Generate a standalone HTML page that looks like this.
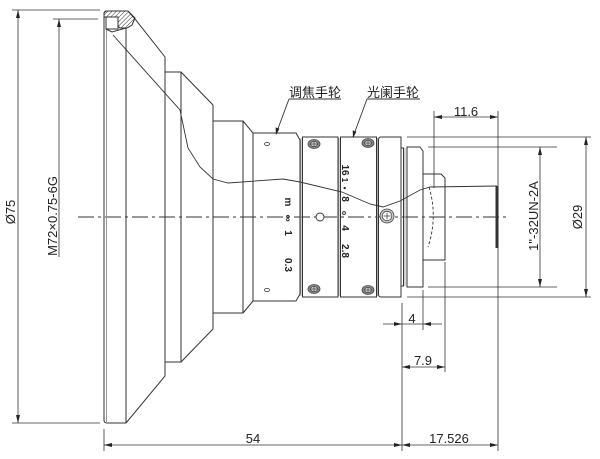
<!DOCTYPE html>
<html><head><meta charset="utf-8"><style>
html,body{margin:0;padding:0;background:#fff;}
svg{display:block;}
text{font-family:"Liberation Sans",Arial,sans-serif;fill:#222;}
.cn{font-family:"Liberation Sans","Noto Sans CJK SC","WenQuanYi Zen Hei",sans-serif;}
</style></head><body>
<svg width="600" height="459" viewBox="0 0 600 459" xmlns="http://www.w3.org/2000/svg">
<defs>
<pattern id="h" width="3" height="3" patternUnits="userSpaceOnUse" patternTransform="rotate(45)">
<line x1="0" y1="0" x2="0" y2="3" stroke="#333" stroke-width="1"/>
</pattern>
</defs>
<rect width="600" height="459" fill="#fff"/>

<!-- centerline -->
<line x1="78" y1="217" x2="510" y2="217" stroke="#333" stroke-width="0.9" stroke-dasharray="16 4 3 4"/>

<g fill="none" stroke="#333" stroke-width="1">
<!-- front body -->
<path d="M104,420 L104,14 Q104,11 107,11 L128,11 L135,19 L165,57 L165,376 L126,423 L107,423 Q104,423 104,420 Z"/>
<line x1="106.5" y1="17" x2="106.5" y2="423" stroke="#999"/>
<line x1="126" y1="28" x2="126" y2="423"/>
<!-- hatch cap -->
<path d="M104,17 L104,13 L106,11 L128,11 L135,18 L132,25 L127,28 L120,28 L118,26 L118,17 Z" fill="url(#h)"/>
<rect x="106" y="17" width="12" height="12" fill="#fff"/>
<polyline points="106,29 112,32 126,28"/>
<!-- box 165-181 -->
<polyline points="165,72 181,72 181,362 165,362"/>
<line x1="181" y1="72" x2="213" y2="105"/>
<line x1="181" y1="362" x2="213" y2="329"/>
<line x1="213" y1="105" x2="213" y2="329"/>
<polyline points="213,121 243,121 243,313 213,313"/>
<line x1="243" y1="121" x2="253" y2="133"/>
<line x1="243" y1="313" x2="253" y2="301"/>
<!-- focus ring -->
<path d="M253,133 L296,133 L300,140 L300,294 L296,301 L253,301 Z"/>
<!-- screw ring -->
<rect x="302.5" y="137" width="35.5" height="160"/>
<!-- aperture ring -->
<rect x="340.5" y="137" width="36" height="160"/>
<!-- ring 4 -->
<path d="M378.5,140 Q378.5,137 381,137 L401,137 L401,297 L381,297 Q378.5,297 378.5,294 Z"/>
<!-- flange -->
<polyline points="401,148 403.5,148 403.5,286 401,286"/>
<path d="M407,147 L420,147 L423,151 L423,287 L407,287 Z"/>
<path d="M423,174 L441,174 L445,178 L445,260 L423,260"/>
</g>
<!-- ring gaps -->
<g stroke="#aaa" stroke-width="1">
<line x1="301" y1="138" x2="301" y2="296"/>
<line x1="339" y1="138" x2="339" y2="296"/>
<line x1="377.5" y1="138" x2="377.5" y2="296"/>
<line x1="405" y1="148" x2="405" y2="286"/>
</g>

<!-- section line -->
<polyline fill="none" stroke="#333" stroke-width="0.9" points="113,35 180,110 188,148 200,167 213,179 228,183 283,179 300,182 342,192 370,204 383,207 400,201 420,190 430,187 497,186"/>
<!-- lens dashed curve -->
<path d="M429,187 Q438,217 428,247" fill="none" stroke="#333" stroke-width="0.9" stroke-dasharray="3 2"/>
<!-- sensor -->
<rect x="495.5" y="186" width="3" height="62" fill="#333"/>

<!-- ovals on focus ring -->
<ellipse cx="267" cy="144" rx="2.5" ry="1.6" fill="none" stroke="#333" stroke-width="0.8"/>
<ellipse cx="267" cy="290" rx="2.5" ry="1.6" fill="none" stroke="#333" stroke-width="0.8"/>
<circle cx="320" cy="217" r="4" fill="#fff" stroke="#333" stroke-width="0.9"/>

<!-- screws -->
<g stroke="#444" stroke-width="0.8">
<g transform="translate(314,144)"><ellipse rx="6" ry="4.5" fill="#8a8a8a"/><ellipse rx="3.5" ry="2.5" fill="#ddd"/><line x1="-3" y1="0" x2="3" y2="0"/><line x1="0" y1="-2.5" x2="0" y2="2.5"/></g>
<g transform="translate(314,289)"><ellipse rx="6" ry="4.5" fill="#8a8a8a"/><ellipse rx="3.5" ry="2.5" fill="#ddd"/><line x1="-3" y1="0" x2="3" y2="0"/><line x1="0" y1="-2.5" x2="0" y2="2.5"/></g>
<g transform="translate(368,143)"><ellipse rx="6" ry="4.5" fill="#8a8a8a"/><ellipse rx="3.5" ry="2.5" fill="#ddd"/><line x1="-3" y1="0" x2="3" y2="0"/><line x1="0" y1="-2.5" x2="0" y2="2.5"/></g>
<g transform="translate(368,290)"><ellipse rx="6" ry="4.5" fill="#8a8a8a"/><ellipse rx="3.5" ry="2.5" fill="#ddd"/><line x1="-3" y1="0" x2="3" y2="0"/><line x1="0" y1="-2.5" x2="0" y2="2.5"/></g>
<g transform="translate(387,216)"><circle r="7" fill="#ccc"/><circle r="4.8" fill="#fff"/><line x1="-3.5" y1="0" x2="3.5" y2="0"/><line x1="0" y1="-3.5" x2="0" y2="3.5"/></g>
</g>

<!-- ring markings -->
<g font-size="10" font-weight="bold" text-anchor="middle">
<text transform="translate(285,202) rotate(90)">m</text>
<text transform="translate(285,218) rotate(90)">∞</text>
<text transform="translate(285,233) rotate(90)">1</text>
<text transform="translate(285,265) rotate(90)">0.3</text>
<text transform="translate(342,170) rotate(90)">16</text>
<text transform="translate(342,180) rotate(90)" font-size="8">1</text>
<text transform="translate(342,188) rotate(90)" font-size="8">•</text>
<text transform="translate(342,199) rotate(90)">8</text>
<text transform="translate(342,213) rotate(90)" font-size="7">o</text>
<text transform="translate(342,228) rotate(90)">4</text>
<text transform="translate(342,251) rotate(90)">2.8</text>
</g>

<!-- labels -->
<text class="cn" x="289" y="97" font-size="13" textLength="52">调焦手轮</text>
<text class="cn" x="367" y="97" font-size="13" textLength="52">光阑手轮</text>
<g stroke="#333" stroke-width="0.9">
<line x1="289" y1="99" x2="341" y2="99"/>
<line x1="367" y1="99" x2="420" y2="99"/>
<line x1="289" y1="99" x2="276" y2="134"/>
<line x1="367" y1="99" x2="353" y2="137"/>
</g>
<polygon points="276,135 275.6,127.4 279.4,128.8" fill="#222"/>
<polygon points="353,138 352.7,130.4 356.4,131.8" fill="#222"/>

<!-- dimension lines -->
<g stroke="#333" stroke-width="0.8" fill="none">
<line x1="12" y1="10" x2="100" y2="10"/>
<line x1="12" y1="423" x2="100" y2="423"/>
<line x1="18" y1="10" x2="18" y2="423"/>
<line x1="53" y1="19" x2="98" y2="19"/>
<line x1="59" y1="19" x2="59" y2="257"/>
<line x1="104" y1="429" x2="104" y2="451"/>
<line x1="402" y1="303" x2="402" y2="451"/>
<line x1="498" y1="111" x2="498" y2="451"/>
<line x1="104" y1="445" x2="498" y2="445"/>
<line x1="423" y1="290" x2="423" y2="330"/>
<line x1="383" y1="324" x2="442" y2="324"/>
<line x1="445" y1="262" x2="445" y2="372"/>
<line x1="402" y1="367" x2="445" y2="367"/>
<line x1="434" y1="111" x2="434" y2="188"/>
<line x1="434" y1="117" x2="498" y2="117"/>
<line x1="407" y1="137" x2="591" y2="137"/>
<line x1="407" y1="297" x2="591" y2="297"/>
<line x1="586" y1="137" x2="586" y2="297"/>
<line x1="428" y1="147" x2="557" y2="147"/>
<line x1="428" y1="287" x2="557" y2="287"/>
<line x1="540" y1="147" x2="540" y2="287"/>
</g>
<g fill="#222">
<polygon points="18,10 16,18 20,18"/>
<polygon points="18,423 16,415 20,415"/>
<polygon points="59,19 57,27 61,27"/>
<polygon points="104,445 112,443 112,447"/>
<polygon points="402,445 394,443 394,447"/>
<polygon points="402,445 410,443 410,447"/>
<polygon points="498,445 490,443 490,447"/>
<polygon points="402,324 394,322 394,326"/>
<polygon points="423,324 431,322 431,326"/>
<polygon points="402,367 410,365 410,369"/>
<polygon points="445,367 437,365 437,369"/>
<polygon points="434,117 442,115 442,119"/>
<polygon points="498,117 490,115 490,119"/>
<polygon points="586,137 584,145 588,145"/>
<polygon points="586,297 584,289 588,289"/>
<polygon points="540,147 538,155 542,155"/>
<polygon points="540,287 538,279 542,279"/>
</g>

<!-- dimension texts -->
<g font-size="13" text-anchor="middle">
<text transform="translate(15,212) rotate(-90)">Ø75</text>
<text transform="translate(57,216) rotate(-90)">M72×0.75-6G</text>
<text x="253" y="443">54</text>
<text x="449" y="443">17.526</text>
<text x="412" y="323">4</text>
<text x="423" y="365">7.9</text>
<text x="466" y="116">11.6</text>
<text transform="translate(582,217) rotate(-90)">Ø29</text>
<text transform="translate(538,216) rotate(-90)">1"-32UN-2A</text>
</g>
</svg>
</body></html>
